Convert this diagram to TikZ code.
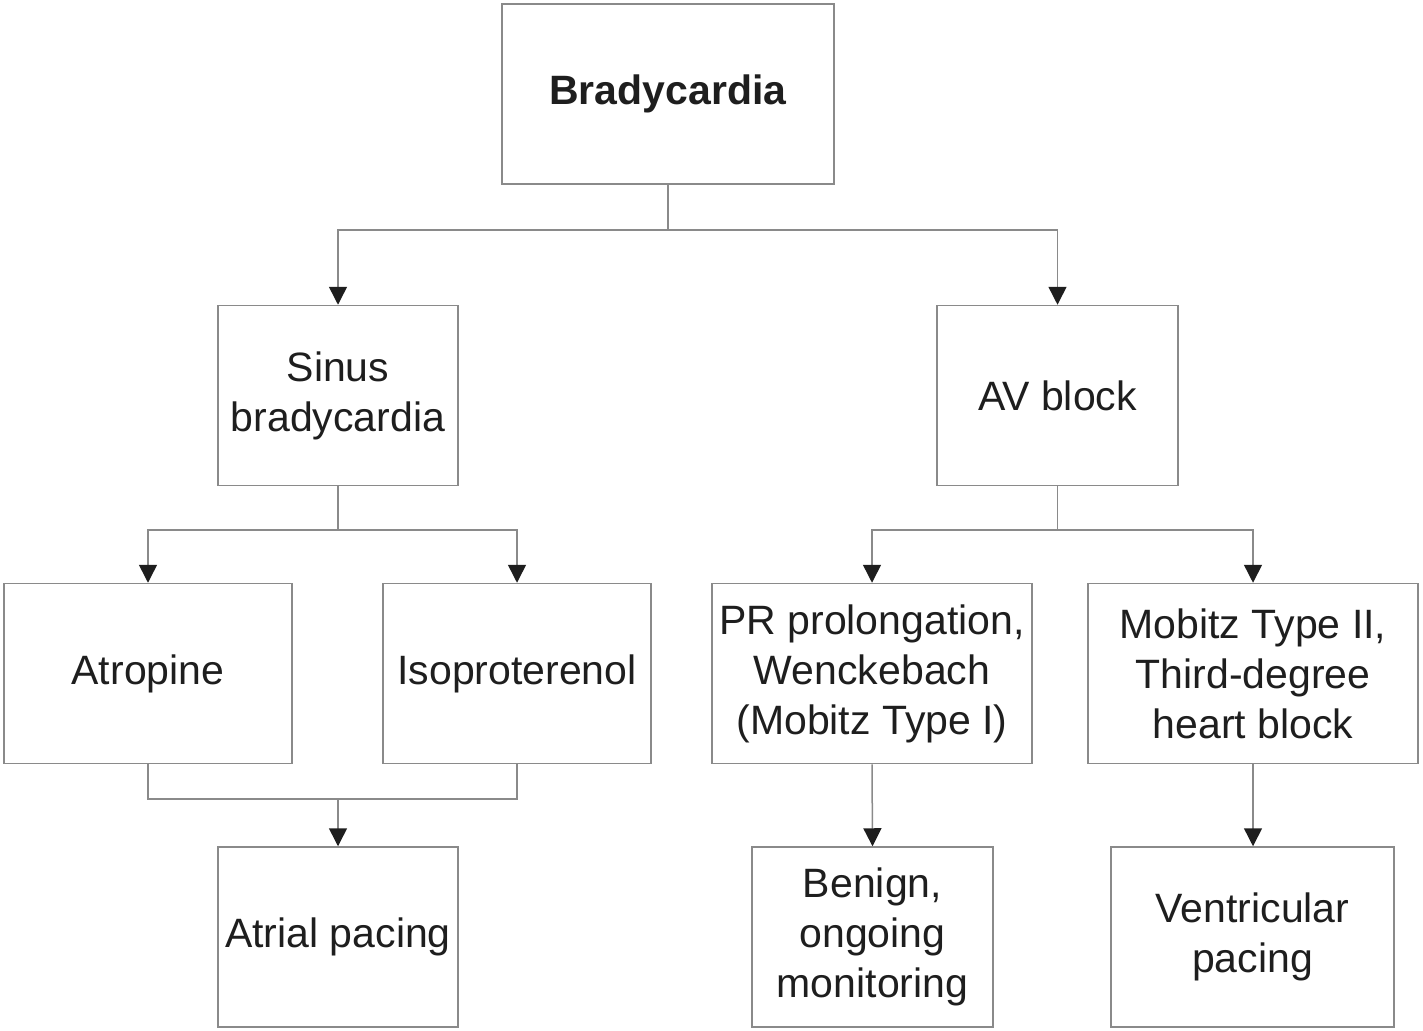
\documentclass[tikz,border=0pt]{standalone}
\usepackage{fontspec}
\setmainfont{Liberation Sans}
\usetikzlibrary{arrows.meta}
\definecolor{ln}{HTML}{8A8A8A}
\definecolor{tx}{HTML}{1E1E1E}
\begin{document}
\begin{tikzpicture}[x=1pt,y=-1pt,
  box/.style={draw=ln,line width=1.5pt,minimum width=#1,minimum height=180pt,inner sep=0pt,align=center,text=tx,font=\fontsize{41}{50}\selectfont},
  box/.default=240pt,
  conn/.style={draw=ln,line width=1.5pt},
  arr/.style={conn,-{Triangle[width=18pt,length=18pt,fill=tx,color=tx]}}]
\useasboundingbox (0,0) rectangle (1423,1030);
\node[box=332pt] (brady) at (668,94) {\textbf{Bradycardia}};
\node[box=240pt] (sinus) at (338,395.5) {Sinus\\bradycardia};
\node[box=241pt] (av) at (1057.5,395.5) {AV block};
\node[box=288pt] (atro) at (148,673.5) {Atropine};
\node[box=268pt] (iso) at (517,673.5) {Isoproterenol};
\node[box=240pt] (atrial) at (338,937) {Atrial pacing};
\node[box=320pt] (pr) at (872,673.5) {PR prolongation,\\Wenckebach\\(Mobitz Type I)};
\node[box=330pt] (mob) at (1253,673.5) {Mobitz Type II,\\Third-degree\\heart block};
\node[box=241pt] (benign) at (872.5,937) {Benign,\\ongoing\\monitoring};
\node[box=283pt] (vent) at (1252.5,937) {Ventricular\\pacing};
\coordinate (j1) at (668,230);
\coordinate (j2) at (338,530);
\coordinate (j3) at (1057.5,530);
\coordinate (j4) at (338,799);
\draw[conn] (brady.south) -- (j1);
\draw[arr] (j1) -| (sinus.north);
\draw[arr] (j1) -| (av.north);
\draw[conn] (sinus.south) -- (j2);
\draw[arr] (j2) -| (atro.north);
\draw[arr] (j2) -| (iso.north);
\draw[conn] (atro.south) |- (j4);
\draw[conn] (iso.south) |- (j4);
\draw[arr] (j4) -- (atrial.north);
\draw[conn] (av.south) -- (j3);
\draw[arr] (j3) -| (pr.north);
\draw[arr] (j3) -| (mob.north);
\draw[arr] (pr.south) -- (benign.north);
\draw[arr] (mob.south) -- (mob.south |- vent.north);
\end{tikzpicture}
\end{document}
